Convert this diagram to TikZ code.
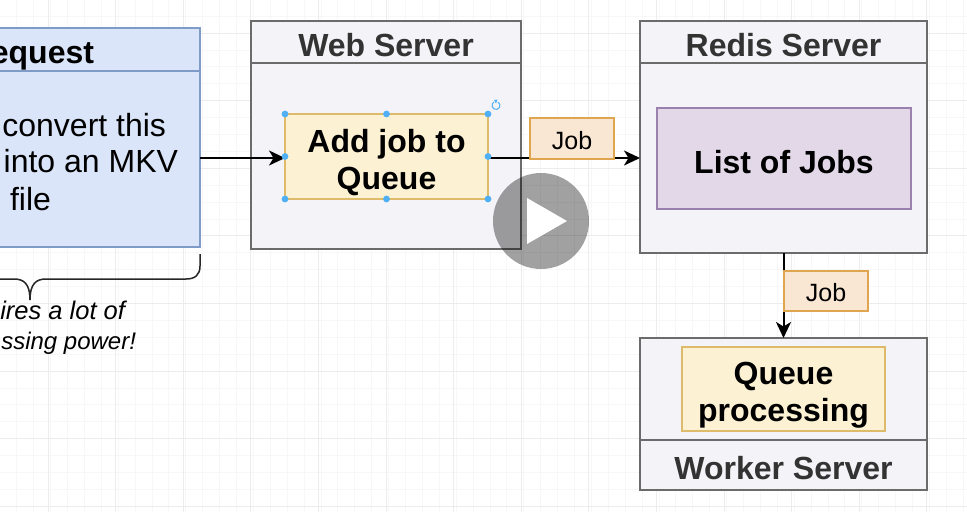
\documentclass[tikz,border=0pt]{standalone}
\usepackage{fontspec}
\setmainfont{Liberation Sans}
\usetikzlibrary{arrows.meta}
\definecolor{gridminor}{HTML}{F7F7F7}
\definecolor{gridmajor}{HTML}{ECECEC}
\definecolor{blueF}{HTML}{DAE5F9}
\definecolor{blueS}{HTML}{7F9BC8}
\definecolor{greyF}{HTML}{F4F3F7}
\definecolor{greyS}{HTML}{6B6B6B}
\definecolor{yelF}{HTML}{FDF1D3}
\definecolor{yelS}{HTML}{DDBB6B}
\definecolor{orF}{HTML}{FAE7D3}
\definecolor{orS}{HTML}{E0A64F}
\definecolor{purF}{HTML}{E2D8E8}
\definecolor{purS}{HTML}{9A80AC}
\definecolor{handle}{HTML}{4FB0F5}
\definecolor{titleC}{HTML}{333333}
\tikzset{
  x=1pt,y=-1pt,
  box/.style={draw,line width=1.8pt,inner sep=0pt,outer sep=0pt,align=center},
  bluebox/.style={box,fill=blueF,draw=blueS},
  server/.style={box,fill=greyF,draw=greyS},
  yelbox/.style={box,fill=yelF,draw=yelS},
  jobbox/.style={box,fill=orF,draw=orS},
  purbox/.style={box,fill=purF,draw=purS},
  plain/.style={inner sep=0pt,outer sep=0pt,align=center},
  boldtext/.style={plain,font=\fontsize{32}{37}\selectfont\bfseries},
  titletext/.style={boldtext,text=titleC},
  jobtext/.style={plain,font=\fontsize{25}{28}\selectfont},
  body/.style={plain,font=\fontsize{32}{37}\selectfont},
  note/.style={plain,font=\fontsize{24}{30}\selectfont\itshape},
  notewide/.style={plain,font=\fontsize{25.5}{30}\selectfont\itshape},
  conn/.style={line width=2pt,black,-{Stealth[length=16pt,width=15pt,inset=4.5pt]}},
  dot/.style={fill=handle,draw=none}
}
\begin{document}
\begin{tikzpicture}
\useasboundingbox (0,0) rectangle (967,512);
\clip (0,0) rectangle (967,512);
\fill[white] (0,0) rectangle (967,512);
% grid
\foreach \i in {0,...,57} {
  \draw[gridminor,line width=.8pt] ({-0.2+16.9*\i},0) -- ({-0.2+16.9*\i},512);
}
\foreach \i in {0,...,30} {
  \draw[gridminor,line width=.8pt] (0,{16.1+16.9*\i}) -- (967,{16.1+16.9*\i});
}
\foreach \i in {0,...,14} {
  \draw[gridmajor,line width=1pt] ({-19.6+67.6*\i+0},0) -- ({-19.6+67.6*\i+0},512);
}
\foreach \i in {0,...,7} {
  \draw[gridmajor,line width=1pt] (0,{33+67.6*\i}) -- (967,{33+67.6*\i});
}
% request
\node[bluebox,minimum width=220pt,minimum height=176pt] (reqbody) at (90,159) {};
\node[bluebox,minimum width=220pt,minimum height=43pt] (reqtitle) at (90,49.5) {};
\node[boldtext,anchor=base east] (reqtext) at (94,63) {equest};
\node[body,anchor=base east] (req1) at (166,136) {convert this};
\node[body,anchor=base east] (req2) at (178,172.5) {into an MKV};
\node[body,anchor=base west] (req3) at (10,210) {file};
% brace
\coordinate (braceR) at (200,254);
\coordinate (braceTip) at (30,300);
\draw[line width=1.5pt,black!85] (braceR) -- (200,266) .. controls (200,275) and (195,279) .. (186,279) -- (46,279) .. controls (36,279) and (30,284) .. (braceTip) (30,300) .. controls (30,284) and (24,279) .. (14,279) -- (-5,279);
\node[notewide,anchor=base east] (note1) at (125,319.5) {ires a lot of};
\node[note,anchor=base east] (note2) at (136,349.5) {ssing power!};
% web server
\node[server,minimum width=270pt,minimum height=186pt] (webbody) at (386,156) {};
\node[server,minimum width=270pt,minimum height=42pt] (webtitle) at (386,42) {};
\node[titletext] (webtext) at ([yshift=-3pt]webtitle.center) {Web Server};
\node[yelbox,minimum width=203pt,minimum height=85pt] (add) at (386.5,156.5) {};
\node[boldtext] (addtext) at ([yshift=-6pt]add.center) {Add job to\\Queue};
% redis
\node[server,minimum width=287pt,minimum height=190pt] (redisbody) at (783.5,158) {};
\node[server,minimum width=287pt,minimum height=42pt] (redistitle) at (783.5,42) {};
\node[titletext] (redistext) at ([yshift=-3pt]redistitle.center) {Redis Server};
\node[purbox,minimum width=254pt,minimum height=101pt] (list) at (784,158.5) {};
\node[boldtext] (listtext) at ([yshift=-3.5pt]list.center) {List of Jobs};
% worker
\node[server,minimum width=287pt,minimum height=102pt] (workbody) at (783.5,389) {};
\node[server,minimum width=287pt,minimum height=50pt] (worktitle) at (783.5,465) {};
\node[titletext] (worktext) at ([yshift=-3pt]worktitle.center) {Worker Server};
\node[yelbox,minimum width=203pt,minimum height=84pt] (queue) at (783.5,389) {};
\node[boldtext] (queuetext) at ([yshift=-6pt]queue.center) {Queue\\processing};
% connectors
\draw[conn] ([yshift=-1.5pt]reqbody.east |- add.west) -- ([yshift=-1.5pt]add.west);
\draw[conn] ([yshift=-1.5pt]add.east) -- ([yshift=-1.5pt]redisbody.west |- add.east);
\draw[conn] (redisbody.south) -- (workbody.north);
% job labels
\node[jobbox,minimum width=84pt,minimum height=41pt] (job1) at (572,138.5) {};
\node[jobtext] (job1text) at ([yshift=-2.5pt]job1.center) {Job};
\node[jobbox,minimum width=84pt,minimum height=40pt] (job2) at (826,291) {};
\node[jobtext] (job2text) at ([yshift=-2pt]job2.center) {Job};
% selection handles
\foreach \a in {north west,north,north east,west,east,south west,south,south east} {
  \fill[dot] (add.\a) circle (3.4pt);
}
\draw[handle,line width=1pt] (498,102) arc (60:-240:4pt);
\fill[handle] (494,100) -- (497.5,99.5) -- (496,103.5) -- cycle;
% play button
\fill[black,opacity=.37] (541,221) circle (48pt);
\fill[white] (527,198) -- (567,221) -- (527,244) -- cycle;
\end{tikzpicture}
\end{document}
